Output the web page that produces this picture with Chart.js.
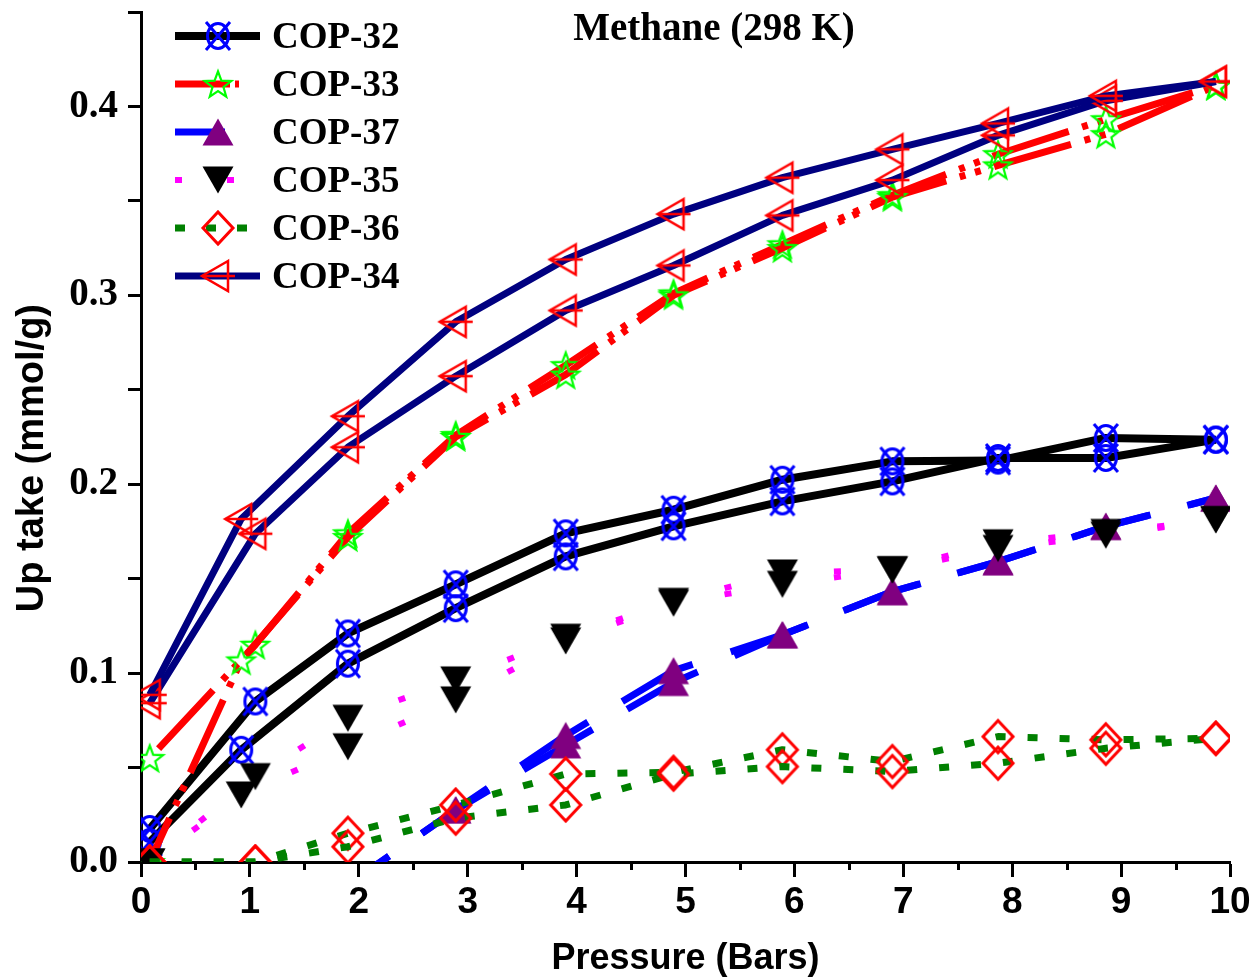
<!DOCTYPE html>
<html>
<head>
<meta charset="utf-8">
<script src="https://cdn.jsdelivr.net/npm/chart.js@4.4.0/dist/chart.umd.min.js"></script>
<style>
  html, body { margin: 0; padding: 0; background: #fff; }
  #wrap { width: 1256px; height: 977px; position: relative; }
</style>
</head>
<body>
<div id="wrap"><canvas id="uptakeChart"></canvas></div>
<script>
// pressure (bar) of the measured points, the two branches of each isotherm
const pA = [0.08, 0.92, 1.9, 2.89, 3.9, 4.89, 5.89, 6.9, 7.87, 8.86, 9.87];
const pB = [0.08, 1.05, 1.9, 2.89, 3.9, 4.89, 5.89, 6.9, 7.87, 8.86, 9.87];
const pC = [1.9, 2.89, 3.9, 4.89, 5.89, 6.9, 7.87, 8.86, 9.87];

// uptake (mmol/g)
const cop32a = [0.0106, 0.0594, 0.105, 0.1344, 0.1618, 0.1777, 0.1909, 0.2015, 0.2139, 0.2139, 0.2236];
const cop32b = [0.0175, 0.085, 0.121, 0.147, 0.174, 0.1865, 0.2024, 0.2121, 0.2125, 0.2245, 0.2236];
const cop33a = [0.0, 0.1067, 0.172, 0.225, 0.258, 0.300, 0.325, 0.352, 0.3688, 0.3853, 0.411];
const cop33b = [0.055, 0.115, 0.174, 0.226, 0.263, 0.301, 0.327, 0.353, 0.3747, 0.3932, 0.411];
const cop37a = [-0.012, 0.0276, 0.067, 0.1013, 0.1203, 0.1432, 0.159, 0.1777, 0.1927];
const cop37b = [-0.012, 0.0276, 0.062, 0.095, 0.1203, 0.1432, 0.159, 0.1777, 0.1927];
const cop35a = [0.0, 0.0355, 0.061, 0.0858, 0.117, 0.137, 0.147, 0.1547, 0.166, 0.173, 0.1812];
const cop35b = [0.0, 0.0452, 0.0761, 0.0964, 0.119, 0.138, 0.153, 0.1547, 0.169, 0.1745, 0.1812];
const cop36a = [0.0, 0.0, 0.0081, 0.0232, 0.0302, 0.0465, 0.0505, 0.0479, 0.0523, 0.0602, 0.0655];
const cop36b = [0.0, 0.0, 0.0152, 0.0302, 0.0466, 0.0475, 0.0594, 0.0532, 0.0664, 0.0647, 0.0655];
const cop34a = [0.0885, 0.1816, 0.236, 0.286, 0.319, 0.343, 0.3623, 0.3773, 0.391, 0.4056, 0.4132];
const cop34b = [0.0841, 0.1738, 0.2196, 0.2572, 0.292, 0.3158, 0.3423, 0.361, 0.3847, 0.403, 0.4132];

const xMin = 0, xMax = 10, xStep = 1;
const yMin = 0, yMax = 0.45, yStep = 0.05;

const serifBold = '"Liberation Serif", "Times New Roman", serif';
const sansBold = '"Liberation Sans", Arial, sans-serif';

// marker glyphs
function marker(w, h, paint) {
  const c = document.createElement('canvas');
  c.width = w; c.height = h;
  const g = c.getContext('2d');
  g.translate(w / 2, h / 2);
  paint(g);
  return c;
}
const circleX = marker(32, 36, g => {
  g.strokeStyle = '#0000ff'; g.lineWidth = 3;
  g.beginPath(); g.ellipse(0, 0, 10.5, 12.5, 0, 0, Math.PI * 2); g.stroke();
  g.beginPath();
  g.moveTo(-12, -14); g.lineTo(12, 14);
  g.moveTo(12, -14); g.lineTo(-12, 14);
  g.stroke();
});
const star5 = marker(34, 34, g => {
  g.strokeStyle = '#00ff00'; g.lineWidth = 2.2;
  g.beginPath();
  for (let i = 0; i < 10; i++) {
    const r = i % 2 ? 5.8 : 14;
    const a = -Math.PI / 2 + i * Math.PI / 5;
    const px = r * Math.cos(a), py = r * Math.sin(a) + 1.4;
    if (i) g.lineTo(px, py); else g.moveTo(px, py);
  }
  g.closePath(); g.stroke();
});
const triUp = marker(34, 32, g => {
  g.fillStyle = '#800080';
  g.beginPath(); g.moveTo(0, -13.5); g.lineTo(15.5, 13.5); g.lineTo(-15.5, 13.5); g.closePath(); g.fill();
});
const triDown = marker(34, 32, g => {
  g.fillStyle = '#000000';
  g.beginPath(); g.moveTo(-15.5, -13.5); g.lineTo(15.5, -13.5); g.lineTo(0, 13.5); g.closePath(); g.fill();
});
const diamond = marker(36, 38, g => {
  g.strokeStyle = '#ff0000'; g.lineWidth = 3;
  g.beginPath(); g.moveTo(0, -16); g.lineTo(15, 0); g.lineTo(0, 16); g.lineTo(-15, 0); g.closePath(); g.stroke();
});
const leftTri = marker(40, 36, g => {
  g.strokeStyle = '#ff0000'; g.lineWidth = 2.5;
  g.beginPath(); g.moveTo(10, -15); g.lineTo(-16, 0); g.lineTo(10, 15); g.closePath(); g.stroke();
  g.beginPath(); g.moveTo(-16, 0); g.lineTo(17, 0); g.stroke();
});

// dotted magenta: one short dash in the middle of each segment
const midDot = {
  borderDash: () => [7, 3000],
  borderDashOffset: c => -(Math.hypot(c.p1.x - c.p0.x, c.p1.y - c.p0.y) / 2 - 3.5)
};

const series = [
  { name: 'COP-32', branches: [[pA, cop32a], [pB, cop32b]], color: '#000000', width: 8, dash: [], offsets: [0, 0], legendDash: [], marker: circleX, order: 5 },
  { name: 'COP-33', branches: [[pA, cop33a], [pB, cop33b]], color: '#ff0000', width: 7, dash: [80, 14, 6, 10, 6, 14], offsets: [32, 117], legendDash: [55, 5, 4, 1000], marker: star5, order: 4 },
  { name: 'COP-37', branches: [[pC, cop37a], [pC, cop37b]], color: '#0000ff', width: 7, dash: [80, 40], offsets: [30, 30], legendDash: [50, 1000], marker: triUp, order: 3 },
  { name: 'COP-35', branches: [[pA, cop35a], [pB, cop35b]], color: '#ff00ff', width: 6, dash: [7, 3000], offsets: [0, 0], segment: midDot, legendDash: [7, 45, 7, 1000], marker: triDown, order: 2 },
  { name: 'COP-36', branches: [[pB, cop36a], [pB, cop36b]], color: '#008000', width: 7, dash: [10, 22], offsets: [0, 0], legendDash: [10, 21], marker: diamond, order: 1 },
  { name: 'COP-34', branches: [[pA, cop34a], [pB, cop34b]], color: '#000080', width: 7, dash: [], offsets: [0, 0], legendDash: [], marker: leftTri, order: 0 }
];

const datasets = [];
series.forEach(s => {
  s.branches.forEach(([xs, ys], b) => {
    const ds = {
      label: s.name,
      data: xs.map((x, i) => ({ x: x, y: ys[i] })),
      borderColor: s.color,
      borderWidth: s.width,
      borderDash: s.dash,
      borderDashOffset: s.offsets[b],
      borderCapStyle: 'butt',
      borderJoinStyle: 'round',
      tension: 0,
      fill: false,
      pointStyle: s.marker,
      pointRadius: 15,
      pointHoverRadius: 15,
      order: s.order
    };
    if (s.segment) ds.segment = s.segment;
    datasets.push(ds);
  });
});

const insideLegend = {
  id: 'insideLegend',
  afterDraw(chart) {
    const ctx = chart.ctx;
    const area = chart.chartArea;
    ctx.save();

    // minor ticks of the pressure axis
    const xs = chart.scales.x;
    ctx.strokeStyle = '#000';
    ctx.lineWidth = 3;
    ctx.beginPath();
    for (let v = xMin + xStep / 2; v < xMax; v += xStep) {
      const px = Math.round(xs.getPixelForValue(v)) + 0.5;
      ctx.moveTo(px, area.bottom);
      ctx.lineTo(px, area.bottom + 8);
    }
    ctx.stroke();

    // legend
    const x0 = area.left + 34, x1 = area.left + 119, xm = area.left + 77;
    let y = area.top + 24;
    series.forEach(s => {
      ctx.beginPath();
      ctx.setLineDash(s.legendDash);
      ctx.lineDashOffset = 0;
      ctx.lineCap = 'butt';
      ctx.lineWidth = s.width;
      ctx.strokeStyle = s.color;
      ctx.moveTo(x0, y);
      ctx.lineTo(x1, y);
      ctx.stroke();
      ctx.setLineDash([]);
      ctx.drawImage(s.marker, xm - s.marker.width / 2, y - s.marker.height / 2);
      ctx.fillStyle = '#000';
      ctx.font = 'bold 37px ' + serifBold;
      ctx.textAlign = 'left';
      ctx.textBaseline = 'middle';
      ctx.fillText(s.name, area.left + 131, y + 2);
      y += 48;
    });

    // title inside the plot
    ctx.font = 'bold 39px ' + serifBold;
    ctx.textAlign = 'center';
    ctx.textBaseline = 'middle';
    ctx.fillText('Methane (298 K)', 714, 30);
    ctx.restore();
  }
};

new Chart(document.getElementById('uptakeChart'), {
  type: 'line',
  data: { datasets },
  options: {
    responsive: true,
    maintainAspectRatio: false,
    animation: false,
    layout: { autoPadding: false, padding: { top: 12, right: 26, left: 0, bottom: 0 } },
    plugins: {
      legend: { display: false },
      tooltip: { enabled: false }
    },
    scales: {
      x: {
        type: 'linear',
        min: xMin,
        max: xMax,
        border: { display: true, color: '#000', width: 3 },
        grid: { drawOnChartArea: false, tickLength: 15, tickWidth: 3, tickColor: '#000' },
        ticks: {
          stepSize: xStep,
          padding: 4,
          color: '#000',
          maxRotation: 0,
          autoSkip: false,
          font: { family: sansBold, weight: 'bold', size: 37 }
        },
        title: {
          display: true,
          text: 'Pressure (Bars)',
          color: '#000',
          font: { family: sansBold, weight: 'bold', size: 36, lineHeight: 1 },
          padding: { top: 0, bottom: 0 }
        },
        afterFit(s) { s.height = 115; }
      },
      y: {
        type: 'linear',
        min: yMin,
        max: yMax,
        border: { display: true, color: '#000', width: 3 },
        grid: { drawOnChartArea: false, tickLength: 13, tickWidth: 3, tickColor: '#000' },
        ticks: {
          stepSize: yStep,
          padding: 10,
          color: '#000',
          font: { family: serifBold, weight: 'bold', size: 39, lineHeight: 0.3 },
          callback: v => (Math.abs(v * 10 - Math.round(v * 10)) < 1e-6 ? v.toFixed(1) : '')
        },
        title: {
          display: true,
          text: 'Up take (mmol/g)    ',
          color: '#000',
          font: { family: sansBold, weight: 'bold', size: 38, lineHeight: 1 },
          padding: { top: 14, bottom: 0 }
        },
        afterFit(s) { s.width = 141; s.paddingTop = 0; s.paddingBottom = 0; }
      }
    }
  },
  plugins: [insideLegend]
});
</script>
</body>
</html>
